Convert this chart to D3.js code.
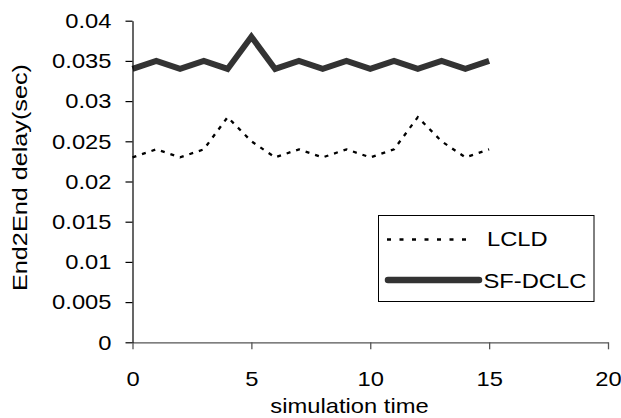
<!DOCTYPE html>
<html>
<head>
<meta charset="utf-8">
<script src="https://cdn.jsdelivr.net/npm/d3@7"></script>
<style>
  html, body { margin: 0; padding: 0; background: #fff; }
  svg { display: block; }
  text { font-family: "Liberation Sans", Arial, sans-serif; fill: #000; }
</style>
</head>
<body>
<svg id="chart" width="621" height="418"></svg>
<script>
// ---- data ----
const times = [0, 1, 2, 3, 4, 5, 6, 7, 8, 9, 10, 11, 12, 13, 14, 15];
const lcld = [0.023, 0.024, 0.023, 0.024, 0.028, 0.025, 0.023, 0.024, 0.023, 0.024, 0.023, 0.024, 0.028, 0.025, 0.023, 0.024];
const sfdclc = [0.034, 0.035, 0.034, 0.035, 0.034, 0.038, 0.034, 0.035, 0.034, 0.035, 0.034, 0.035, 0.034, 0.035, 0.034, 0.035];
const seriesNames = ["LCLD", "SF-DCLC"];
const xTicks = [0, 5, 10, 15, 20];
const yTicks = [0, 0.005, 0.01, 0.015, 0.02, 0.025, 0.03, 0.035, 0.04];
const xTitle = "simulation time";
const yTitle = "End2End delay(sec)";

const svg = d3.select("#chart");
const FS = 21;
const STRETCH = 1.13;
// widen glyphs horizontally while keeping the intended anchor position
function stretch(sel, factor) {
  const f = factor || STRETCH;
  sel.each(function () {
    const w = this.getComputedTextLength();
    const W = w * f;
    const anchor = getComputedStyle(this).textAnchor;
    const x0 = +(this.getAttribute("x") || 0);
    const shift = anchor === "end" ? W : anchor === "middle" ? W / 2 : 0;
    d3.select(this)
      .attr("text-anchor", "start")
      .style("text-anchor", "start")
      .attr("x", x0 - shift)
      .attr("textLength", W)
      .attr("lengthAdjust", "spacingAndGlyphs");
  });
}

const x = d3.scaleLinear().domain([0, 20]).range([132.5, 608]);
const y = d3.scaleLinear().domain([0, 0.04]).range([342.3, 20.7]);

// lines
const line = d3.line().x((d, i) => x(times[i])).y(d => y(d));

svg.append("path").datum(lcld)
  .attr("d", line).attr("fill", "none")
  .attr("stroke", "#000").attr("stroke-width", 2.3)
  .attr("stroke-dasharray", "4,6");

svg.append("path").datum(sfdclc)
  .attr("d", line).attr("fill", "none")
  .attr("stroke", "#333").attr("stroke-width", 6)
  .attr("stroke-linejoin", "miter");

// x axis
const gx = svg.append("g").attr("transform", `translate(0,${y(0)})`)
  .call(d3.axisBottom(x).tickValues(xTicks).tickSize(7).tickPadding(21.5).tickSizeOuter(0).tickFormat(d3.format("d")));
gx.select(".domain").attr("stroke", "#555").attr("stroke-width", 1.3);
gx.selectAll(".tick line").attr("stroke", "#555").attr("stroke-width", 1.3);
gx.selectAll(".tick text").attr("font-size", FS).attr("font-family", null);
stretch(gx.selectAll(".tick text"));

// y axis
const gy = svg.append("g").attr("transform", `translate(${x(0)},0)`)
  .call(d3.axisLeft(y).tickValues(yTicks).tickSize(7).tickPadding(14).tickSizeOuter(0).tickFormat(d => d3.format("")(+d.toFixed(3))));
gy.select(".domain").attr("stroke", "#000").attr("stroke-width", 1.2);
gy.selectAll(".tick line").attr("stroke", "#000").attr("stroke-width", 1.2);
gy.selectAll(".tick text").attr("font-size", FS).attr("font-family", null);
stretch(gy.selectAll(".tick text"));

// titles
const xt = svg.append("text").attr("x", 349.5).attr("y", 413)
  .attr("text-anchor", "middle").attr("font-size", FS).text(xTitle);
stretch(xt);
const yt = svg.append("text").attr("transform", "translate(27,177.5) rotate(-90)")
  .attr("text-anchor", "middle").attr("font-size", FS).text(yTitle);
stretch(yt, 1.2);

// legend
const lg = svg.append("g");
lg.append("rect").attr("x", 378.5).attr("y", 215.5).attr("width", 215.5).attr("height", 86)
  .attr("fill", "#fff").attr("stroke", "#000").attr("stroke-width", 1);
lg.append("line").attr("x1", 387).attr("x2", 473).attr("y1", 239.5).attr("y2", 239.5)
  .attr("stroke", "#000").attr("stroke-width", 2.5).attr("stroke-dasharray", "4,8.5");
lg.append("line").attr("x1", 388).attr("x2", 479).attr("y1", 280).attr("y2", 280)
  .attr("stroke", "#333").attr("stroke-width", 6.5).attr("stroke-linecap", "round");
const l1 = lg.append("text").attr("x", 487).attr("y", 246).attr("font-size", FS).text(seriesNames[0]);
const l2 = lg.append("text").attr("x", 483.5).attr("y", 287.5).attr("font-size", FS).text(seriesNames[1]);
stretch(l1); stretch(l2);
</script>
</body>
</html>
